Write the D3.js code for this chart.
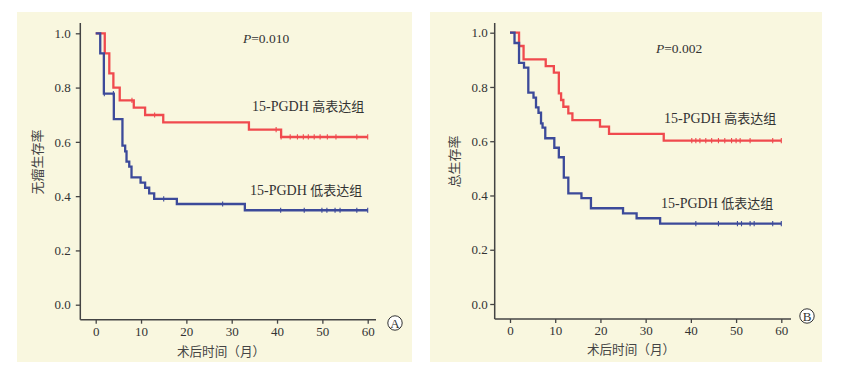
<!DOCTYPE html>
<html lang="zh">
<head>
<meta charset="utf-8">
<style>
  body { margin: 0; background: #fff; }
  svg text { font-family: "Liberation Serif", "DejaVu Serif", serif; fill: #333; }
  .cjk { font-family: "Noto Sans CJK SC", sans-serif; }
</style>
</head>
<body>
<svg width="849" height="366"></svg>
<script src="https://cdn.jsdelivr.net/npm/d3@7"></script>
<script>
// A: disease-free survival
var dfsHighTimes = [0, 2, 3.0, 3.9, 5.3, 8.4, 10.9, 14.9, 33.8, 40.9];
var dfsHighSurv = [1, 0.926, 0.852, 0.800, 0.753, 0.726, 0.699, 0.672, 0.645, 0.618];
var dfsHighCensor = [8.0, 13.0, 39.8, 40.9, 42.9, 44.5, 45.8, 46.9, 48.2, 49.5, 51.1, 53.0, 57.6, 60];
var dfsLowTimes = [0, 1, 1.8, 4.0, 5.9, 6.5, 6.8, 7.4, 7.9, 9.9, 10.9, 11.8, 12.9, 17.9, 32.9];
var dfsLowSurv = [1, 0.926, 0.778, 0.684, 0.586, 0.565, 0.527, 0.509, 0.469, 0.450, 0.431, 0.410, 0.390, 0.371, 0.348];
var dfsLowCensor = [1.9, 3.9, 15.0, 28.0, 40.8, 46.0, 49.9, 51.0, 52.8, 53.9, 57.6, 60];

// B: overall survival
var osHighTimes = [0, 2, 3, 7.9, 9.7, 10.8, 11.3, 11.8, 12.9, 13.8, 19.9, 21.9, 34];
var osHighSurv = [1, 0.951, 0.902, 0.877, 0.853, 0.776, 0.752, 0.727, 0.703, 0.678, 0.654, 0.627, 0.602];
var osHighCensor = [40.2, 41.1, 42.0, 43.3, 44.6, 46.1, 47.5, 49.0, 50.0, 50.9, 53.1, 58.1, 60];
var osLowTimes = [0, 1, 2, 3.1, 4.05, 5.2, 5.75, 6.3, 6.86, 7.2, 7.8, 9.8, 10.8, 11.9, 12.9, 15.8, 17.9, 25, 28, 33.2];
var osLowSurv = [1, 0.962, 0.889, 0.871, 0.779, 0.761, 0.725, 0.705, 0.666, 0.650, 0.611, 0.576, 0.541, 0.466, 0.408, 0.390, 0.353, 0.334, 0.316, 0.296];
var osLowCensor = [41.1, 46.1, 50.3, 51.2, 53.1, 54.0, 58.1, 60];

var xTicks = [0, 10, 20, 30, 40, 50, 60];
var yTicks = [0, 0.2, 0.4, 0.6, 0.8, 1.0];
var xTitle = "术后时间（月）";
var groupPrefix = "15-PGDH ", highLabel = "高表达组", lowLabel = "低表达组";

var RED = "#f04a4e", BLUE = "#3c4a9a", AXIS = "#444";
var SERIF = "'Liberation Serif', 'DejaVu Serif', serif";
var CJK = "'Noto Sans CJK SC', sans-serif";

var svg = d3.select("svg");

function panel(p) {
  var g = svg.append("g");
  g.append("rect").attr("x", p.bg[0]).attr("y", 12).attr("width", p.bg[1] - p.bg[0]).attr("height", 350)
    .attr("fill", "#f9f7df");

  var x = d3.scaleLinear().domain([0, 60]).range(p.xr);
  var y = d3.scaleLinear().domain([0, 1]).range(p.yr);

  // axes (ticks from d3, axis lines drawn to the longer extent)
  var xa = g.append("g").attr("transform", "translate(0," + p.axisY + ")")
    .call(d3.axisBottom(x).tickValues(xTicks).tickSize(4).tickPadding(3).tickFormat(d3.format("d")));
  var ya = g.append("g").attr("transform", "translate(" + p.axisX + ",0)")
    .call(d3.axisLeft(y).tickValues(yTicks).tickSize(4.5).tickPadding(p.ypad).tickFormat(d3.format(".1f")));
  [xa, ya].forEach(function(a) {
    a.attr("font-size", null).attr("font-family", null);
    a.select(".domain").remove();
    a.selectAll("line").attr("stroke", AXIS).attr("stroke-width", 1.3);
    a.selectAll("text").style("font-size", "13px").style("fill", "#333")
      .style("font-family", SERIF);
  });
  g.append("line").attr("x1", p.axisX).attr("x2", p.axisX).attr("y1", 23).attr("y2", p.axisY)
    .attr("stroke", AXIS).attr("stroke-width", 1.5);
  g.append("line").attr("x1", p.axisX).attr("x2", p.xEnd).attr("y1", p.axisY).attr("y2", p.axisY)
    .attr("stroke", AXIS).attr("stroke-width", 1.5);

  var line = d3.line().x(function(d) { return x(d[0]); }).y(function(d) { return y(d[1]); })
    .curve(d3.curveStepAfter);

  p.series.forEach(function(s) {
    var pts = s.t.map(function(t, i) { return [t, s.s[i]]; });
    pts.push([60, s.s[s.s.length - 1]]);
    g.append("path").attr("d", line(pts)).attr("fill", "none")
      .attr("stroke", s.c).attr("stroke-width", 2.3);
    // censor marks
    var yAt = function(d) { var i = d3.bisectRight(s.t, d) - 1; return y(s.s[Math.max(i, 0)]); };
    g.selectAll(null).data(s.cens).enter().append("line")
      .attr("x1", function(d) { return x(d); }).attr("x2", function(d) { return x(d); })
      .attr("y1", function(d) { return yAt(d) - 2.6; })
      .attr("y2", function(d) { return yAt(d) + 2.6; })
      .attr("stroke", s.c).attr("stroke-width", 1.1);
  });

  // titles
  g.append("text").attr("x", p.xt[0]).attr("y", p.xt[1]).style("font-family", CJK)
    .attr("text-anchor", "middle").style("font-size", "12.6px").style("fill", "#444").text(xTitle);
  g.append("text").attr("text-anchor", "middle").style("font-family", CJK).style("font-size", "13px")
    .style("fill", "#444")
    .attr("transform", "translate(" + p.yt[0] + "," + p.yt[1] + ") rotate(-90)").text(p.ytitle);

  var pt = g.append("text").attr("x", p.pv[0]).attr("y", p.pv[1]).style("font-size", "13.5px");
  pt.append("tspan").style("font-style", "italic").text("P");
  pt.append("tspan").text("=" + p.pval);

  [[p.hl, highLabel], [p.ll, lowLabel]].forEach(function(l) {
    var t = g.append("text").attr("x", l[0][0]).attr("y", l[0][1]).style("font-size", "14px");
    t.append("tspan").style("font-family", SERIF).text(groupPrefix);
    t.append("tspan").style("font-family", CJK).style("font-size", "13px").text(l[1]);
  });

  g.append("circle").attr("cx", p.tag[0]).attr("cy", p.tag[1]).attr("r", 7.2)
    .attr("fill", "#fff").attr("stroke", "#333").attr("stroke-width", 1);
  g.append("text").attr("x", p.tag[0]).attr("y", p.tag[1] + 4.5).attr("text-anchor", "middle")
    .style("font-size", "13px").text(p.letter);
}

panel({
  bg: [17, 412], xr: [95.7, 367.7], yr: [304.7, 33.3], axisX: 80.3, axisY: 319.7, xEnd: 376, ypad: 5,
  series: [
    { t: dfsHighTimes, s: dfsHighSurv, cens: dfsHighCensor, c: RED },
    { t: dfsLowTimes, s: dfsLowSurv, cens: dfsLowCensor, c: BLUE }
  ],
  xt: [221, 356], yt: [41.5, 162], ytitle: "无瘤生存率",
  pv: [243, 42.5], pval: "0.010",
  hl: [252, 110.5], ll: [250, 194.5],
  tag: [395, 323], letter: "A"
});

panel({
  bg: [430, 822], xr: [510, 781.3], yr: [304, 32.7], axisX: 494.7, axisY: 319, xEnd: 791, ypad: 2.5,
  series: [
    { t: osHighTimes, s: osHighSurv, cens: osHighCensor, c: RED },
    { t: osLowTimes, s: osLowSurv, cens: osLowCensor, c: BLUE }
  ],
  xt: [631, 354], yt: [458.5, 161.5], ytitle: "总生存率",
  pv: [656, 52.5], pval: "0.002",
  hl: [664, 122.5], ll: [661, 207.5],
  tag: [807, 316], letter: "B"
});
</script>
</body>
</html>
